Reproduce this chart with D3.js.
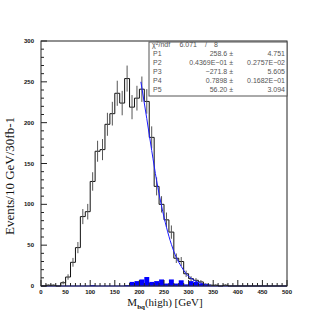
<!DOCTYPE html>
<html><head><meta charset="utf-8">
<script src="https://cdn.jsdelivr.net/npm/d3@7"></script>
<style>body{margin:0;background:#fff}svg{display:block}</style>
</head><body>
<script>
// ---- data ----
const binWidth = 10;
const binStarts = d3.range(0, 500, binWidth); // category axis: 10 GeV bins
const counts = [0,1,1,0,4,11,29,47,85,91,128,165,167,198,211,236,224,254,219,230,
  241,226,182,122,100,81,66,34,30,15,9,7,5,2,1,1,0,1,0,0,
  0,0,0,0,0,0,0,0,0,0];
const bgCounts = [0,0,0,0,0,0,0,0,0,0,1,0,0,0,0,0,0,1,5,6,
  8,11,5,6,8,3,8,3,7,2,6,5,3,2,0,0,0,0,0,0,
  0,0,0,0,0,0,0,0,0,0];
const fitX = [203,215,225,235,245,255,265,275,285,295,305,315,325,335,345];
const fitY = [250,205,166,129,98,72,51,35,24,15,9.5,5.8,3.4,1.9,1.0];
const xTicks = [0,50,100,150,200,250,300,350,400,450,500];
const yTicks = [0,50,100,150,200,250,300];
const statLabels = ["P1","P2","P3","P4","P5"];
const statValues = ["258.6","0.4369E\u221201","\u2212271.8","0.7898","56.20"];
const statErrors = ["4.751","0.2757E\u221202","5.605","0.1682E\u221201","3.094"];
const chi2 = "6.071", ndf = "8";

// ---- layout ----
const W = 327, H = 327;
const m = {left:41, right:287, top:41, bottom:286};
const svg = d3.select("body").append("svg").attr("width",W).attr("height",H);
svg.append("rect").attr("width",W).attr("height",H).attr("fill","#fff");

const x = d3.scaleLinear().domain([0,500]).range([m.left,m.right]);
const y = d3.scaleLinear().domain([0,300]).range([m.bottom,m.top]);

// blue filled histogram
const g = svg.append("g");
binStarts.forEach((b,i)=>{
  if(bgCounts[i]>0){
    g.append("rect").attr("x",x(b)).attr("width",x(b+binWidth)-x(b))
     .attr("y",y(bgCounts[i])).attr("height",y(0)-y(bgCounts[i]))
     .attr("fill","#0000ff");
  }
});
g.append("line").attr("x1",x(0)).attr("x2",x(500)).attr("y1",y(0)).attr("y2",y(0))
  .attr("stroke","#2020ff").attr("stroke-width",1.2);

// step histogram
const stepPts = [];
binStarts.forEach((b,i)=>{ stepPts.push([b,counts[i]]); stepPts.push([b+binWidth,counts[i]]); });
const line = d3.line().x(d=>x(d[0])).y(d=>y(d[1]));
g.append("path").attr("d",line(stepPts)).attr("fill","none")
  .attr("stroke","#111").attr("stroke-width",1);

// error bars
binStarts.forEach((b,i)=>{
  const c = counts[i]; if(c<=0) return;
  const e = Math.sqrt(c);
  g.append("line").attr("x1",x(b+binWidth/2)).attr("x2",x(b+binWidth/2))
   .attr("y1",y(Math.max(0,c-e))).attr("y2",y(c+e))
   .attr("stroke","#555").attr("stroke-width",1);
});

// fit curve
const fitPts = fitX.map((v,i)=>[v,fitY[i]]);
g.append("path").attr("d",d3.line().x(d=>x(d[0])).y(d=>y(d[1])).curve(d3.curveMonotoneX)(fitPts))
  .attr("fill","none").attr("stroke","#1a1aff").attr("stroke-width",1);

// frame
svg.append("rect").attr("x",m.left).attr("y",m.top).attr("width",m.right-m.left)
  .attr("height",m.bottom-m.top).attr("fill","none").attr("stroke","#222").attr("stroke-width",1);

// ticks (inward)
const ax = svg.append("g").attr("stroke","#222").attr("stroke-width",1);
for(let v=0; v<=500; v+=10){
  const major = v%50===0;
  ax.append("line").attr("x1",x(v)).attr("x2",x(v)).attr("y1",y(0)).attr("y2",y(0)-(major?6:3));
}
for(let v=0; v<=300; v+=10){
  const major = v%50===0;
  ax.append("line").attr("x1",x(0)).attr("x2",x(0)+(major?6:3)).attr("y1",y(v)).attr("y2",y(v));
}
const lab = svg.append("g").attr("font-family","Liberation Sans, Arial, sans-serif")
  .attr("font-size",6).attr("font-weight","bold").attr("fill","#111");
xTicks.forEach(v=>lab.append("text").attr("x",x(v)).attr("y",y(0)+8).attr("text-anchor","middle").text(v));
yTicks.forEach(v=>lab.append("text").attr("x",x(0)-7).attr("y",y(v)+2).attr("text-anchor","end").text(v));

// axis titles
const xt = svg.append("text").attr("x",165).attr("y",306).attr("text-anchor","middle")
  .attr("font-family","Liberation Serif, Times New Roman, serif").attr("font-size",11).attr("fill","#111");
xt.append("tspan").text("M");
xt.append("tspan").attr("dy",2.5).attr("font-size",7).attr("font-weight","bold").text("bq");
xt.append("tspan").attr("dy",-2.5).text("(high) [GeV]");

svg.append("text").attr("transform","translate(14,176) rotate(-90)").attr("text-anchor","middle")
  .attr("font-family","Liberation Serif, Times New Roman, serif").attr("font-size",13).attr("fill","#111")
  .text("Events/10 GeV/30fb-1");

// stats box
const bx0 = 149, bx1 = m.right, by0 = 42, by1 = 96;
svg.append("rect").attr("x",bx0).attr("y",by0).attr("width",bx1-bx0).attr("height",by1-by0)
  .attr("fill","#fff").attr("stroke","#555").attr("stroke-width",1);
const st = svg.append("g").attr("font-family","Liberation Sans, Arial, sans-serif")
  .attr("font-size",7).attr("fill","#555");
const rowY = i => 47 + i*8.9;
const r0 = st.append("text").attr("x",152).attr("y",rowY(0));
r0.append("tspan").text("\u03c7");
r0.append("tspan").attr("dy",-2.5).attr("font-size",5).text("2");
r0.append("tspan").attr("dy",2.5).text("/ndf");
st.append("text").attr("x",197).attr("y",rowY(0)).attr("text-anchor","end").text(chi2);
st.append("text").attr("x",205).attr("y",rowY(0)).text("/");
st.append("text").attr("x",214).attr("y",rowY(0)).text(ndf);
statLabels.forEach((l,i)=>{
  const yy = rowY(i+1);
  st.append("text").attr("x",153).attr("y",yy).text(l);
  st.append("text").attr("x",233).attr("y",yy).attr("text-anchor","end").text(statValues[i]+" \u00b1");
  st.append("text").attr("x",285).attr("y",yy).attr("text-anchor","end").text(statErrors[i]);
});
</script>
</body></html>
